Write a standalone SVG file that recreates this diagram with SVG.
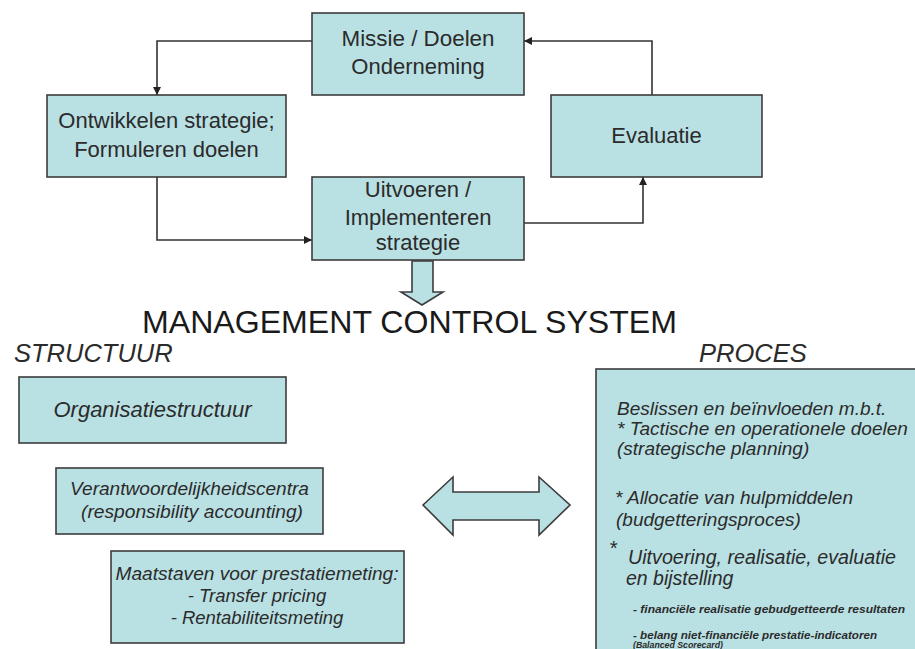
<svg xmlns="http://www.w3.org/2000/svg" width="915" height="649" viewBox="0 0 915 649">
<style>
.box{fill:#b9e0e3;stroke:#3c3c3c;stroke-width:1.6}
.t{font-family:"Liberation Sans",Arial,sans-serif;fill:#2b2b2b;text-anchor:middle}
.top{font-size:22px}
.i{font-family:"Liberation Sans",Arial,sans-serif;font-style:italic;fill:#2b2b2b}
.mid{text-anchor:middle}
.con{fill:none;stroke:#333;stroke-width:1.6}
</style>
<defs>
<marker id="ah" markerUnits="userSpaceOnUse" markerWidth="9" markerHeight="9" refX="8" refY="4" orient="auto">
<path d="M0,0 L8,4 L0,8 z" fill="#222"/>
</marker>
</defs>
<rect width="915" height="649" fill="#ffffff"/>

<g id="connectors">
<path class="con" d="M312,41 H157 V95" marker-end="url(#ah)"/>
<path class="con" d="M157,177 V240 H312" marker-end="url(#ah)"/>
<path class="con" d="M524,223 H643 V177" marker-end="url(#ah)"/>
<path class="con" d="M652,95 V41 H524" marker-end="url(#ah)"/>
</g>

<g id="missie">
<rect class="box" x="312" y="13" width="212" height="82"/>
<text class="t top" x="418" y="46" textLength="153" lengthAdjust="spacingAndGlyphs">Missie / Doelen</text>
<text class="t top" x="418" y="74">Onderneming</text>
</g>

<g id="ontwikkelen">
<rect class="box" x="47" y="95" width="239" height="82"/>
<text class="t top" x="166.5" y="128">Ontwikkelen strategie;</text>
<text class="t top" x="166.5" y="157">Formuleren doelen</text>
</g>

<g id="evaluatie">
<rect class="box" x="551" y="95" width="211" height="82"/>
<text class="t top" x="656.5" y="143">Evaluatie</text>
</g>

<g id="uitvoeren">
<rect class="box" x="312" y="177" width="212" height="83"/>
<text class="t top" x="418" y="197">Uitvoeren /</text>
<text class="t top" x="418" y="225">Implementeren</text>
<text class="t top" x="418" y="250">strategie</text>
</g>

<g id="down-arrow">
<path class="box" d="M412,261 H433 V292 H443 L422,305 L401,292 H412 Z"/>
</g>

<g id="title">
<text x="142" y="333" font-family="Liberation Sans, Arial, sans-serif" font-size="32" fill="#1a1a1a" textLength="535" lengthAdjust="spacingAndGlyphs">MANAGEMENT CONTROL SYSTEM</text>
</g>

<g id="structuur-label">
<text class="i" x="14" y="362" font-size="25.5">STRUCTUUR</text>
</g>
<g id="proces-label">
<text class="i" x="699" y="362" font-size="25.5">PROCES</text>
</g>

<g id="organisatiestructuur">
<rect class="box" x="19" y="377" width="267" height="66"/>
<text class="i mid" x="152.5" y="417" font-size="22">Organisatiestructuur</text>
</g>

<g id="verantwoordelijkheidscentra">
<rect class="box" x="56" y="468" width="267" height="66"/>
<text class="i mid" x="189.5" y="495" font-size="18.5" textLength="239" lengthAdjust="spacingAndGlyphs">Verantwoordelijkheidscentra</text>
<text class="i mid" x="192" y="518" font-size="18.5" textLength="222" lengthAdjust="spacingAndGlyphs">(responsibility accounting)</text>
</g>

<g id="maatstaven">
<rect class="box" x="111" y="551" width="293" height="92"/>
<text class="i mid" x="257" y="580" font-size="18.5" textLength="283" lengthAdjust="spacingAndGlyphs">Maatstaven voor prestatiemeting:</text>
<text class="i mid" x="257" y="602" font-size="18.5">- Transfer pricing</text>
<text class="i mid" x="257" y="624" font-size="18.5">- Rentabiliteitsmeting</text>
</g>

<g id="double-arrow">
<path class="box" d="M423,505 L453,477 V492 H539 V477 L570,505 L539,535 V520 H453 V535 Z"/>
</g>

<g id="proces">
<rect class="box" x="596" y="369" width="330" height="300"/>
<text class="i" x="617" y="415" font-size="19">Beslissen en beïnvloeden m.b.t.</text>
<text class="i" x="617" y="435" font-size="19">* Tactische en operationele doelen</text>
<text class="i" x="617" y="455" font-size="19">(strategische planning)</text>
<text class="i" x="615" y="504" font-size="19">* Allocatie van hulpmiddelen</text>
<text class="i" x="616" y="526" font-size="19">(budgetteringsproces)</text>
<text class="i" x="609" y="555" font-size="20">*</text>
<text class="i" x="628" y="564" font-size="19.5" textLength="268" lengthAdjust="spacingAndGlyphs">Uitvoering, realisatie, evaluatie</text>
<text class="i" x="626" y="585" font-size="19.5">en bijstelling</text>
<text class="i" x="633" y="613" font-size="10" font-weight="bold" textLength="272" lengthAdjust="spacingAndGlyphs">- financiële realisatie gebudgetteerde resultaten</text>
<text class="i" x="633" y="639" font-size="10" font-weight="bold" textLength="244" lengthAdjust="spacingAndGlyphs">- belang niet-financiële prestatie-indicatoren</text>
<text class="i" x="633" y="648" font-size="9" font-weight="bold" textLength="90" lengthAdjust="spacingAndGlyphs">(Balanced Scorecard)</text>
</g>
</svg>
